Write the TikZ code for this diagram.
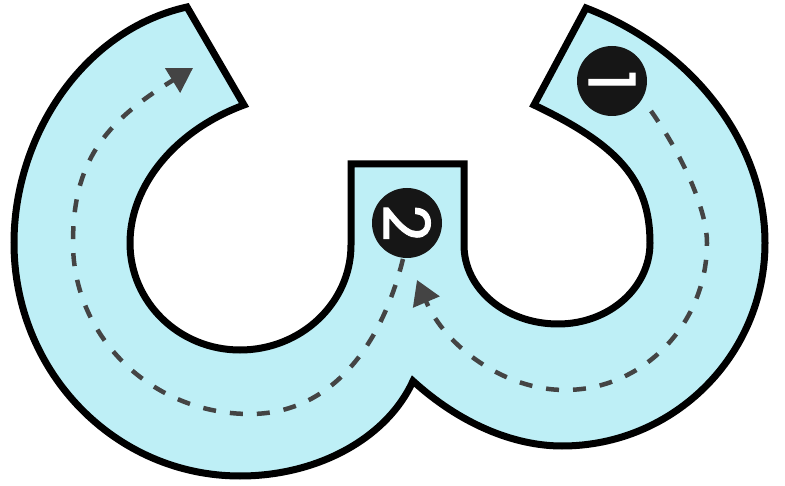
\documentclass[tikz,border=0pt]{standalone}
\usepackage{fontspec}
\newfontfamily\digitfont{Poppins}[FakeBold=1.5]
\usetikzlibrary{arrows.meta}
\definecolor{letterfill}{RGB}{190,239,246}
\definecolor{dotfill}{RGB}{22,22,22}
\definecolor{traceline}{RGB}{68,68,68}
\tikzset{
  letter/.style={fill=letterfill, draw=black, line width=7pt, line join=miter},
  numdot/.style={circle, fill=dotfill, minimum size=70pt, inner sep=0pt, text=white,
    font=\digitfont\fontsize{64}{64}\selectfont, rotate=-90},
  tracepath/.style={draw=traceline, line width=4.5pt, dash pattern=on 13pt off 14pt,
    -{Triangle[length=24pt,width=28pt]}}
}
\begin{document}
\begin{tikzpicture}[x=1pt,y=-1pt]
\useasboundingbox (0,0) rectangle (785,486);
% letter outline
\path[letter] (187,7) -- (244,105)
  .. controls (176,130) and (130,185) .. (130,243)
  .. controls (130,302) and (179,350) .. (240,350)
  .. controls (301,350) and (351,303) .. (351,245)
  -- (351,164) -- (464,164) -- (464,245)
  .. controls (464,289) and (506,324) .. (558,324)
  .. controls (609,324) and (650,288) .. (650,243)
  .. controls (650,180) and (618,145) .. (534,105)
  -- (586,8)
  .. controls (693,49) and (765,143) .. (765,243)
  .. controls (765,355) and (674,446) .. (562,446)
  .. controls (513,446) and (459,423) .. (413,381)
  .. controls (387,438) and (318,476) .. (240,476)
  .. controls (115,476) and (14,372) .. (14,243)
  .. controls (14,136) and (83,30) .. (187,7)
  -- cycle;
% numbered dots
\node[numdot] (n1) at (612,81) {1};
\node[numdot] (n2) at (407,223) {2};
% tracing paths
\coordinate (s1) at (651,111);
\coordinate (e1) at (417,280);
\coordinate (s2) at (403,259);
\coordinate (e2) at (193,68);
\draw[tracepath] (s1)
  .. controls (685,159) and (707,212) .. (707,243)
  .. controls (707,324) and (643,390) .. (565,390)
  .. controls (504,390) and (445,346) .. (e1);
\draw[tracepath] (s2)
  .. controls (378,359) and (322,414) .. (250,414)
  .. controls (152,414) and (73,337) .. (73,243)
  .. controls (73,163) and (103,123) .. (e2);
\end{tikzpicture}
\end{document}
